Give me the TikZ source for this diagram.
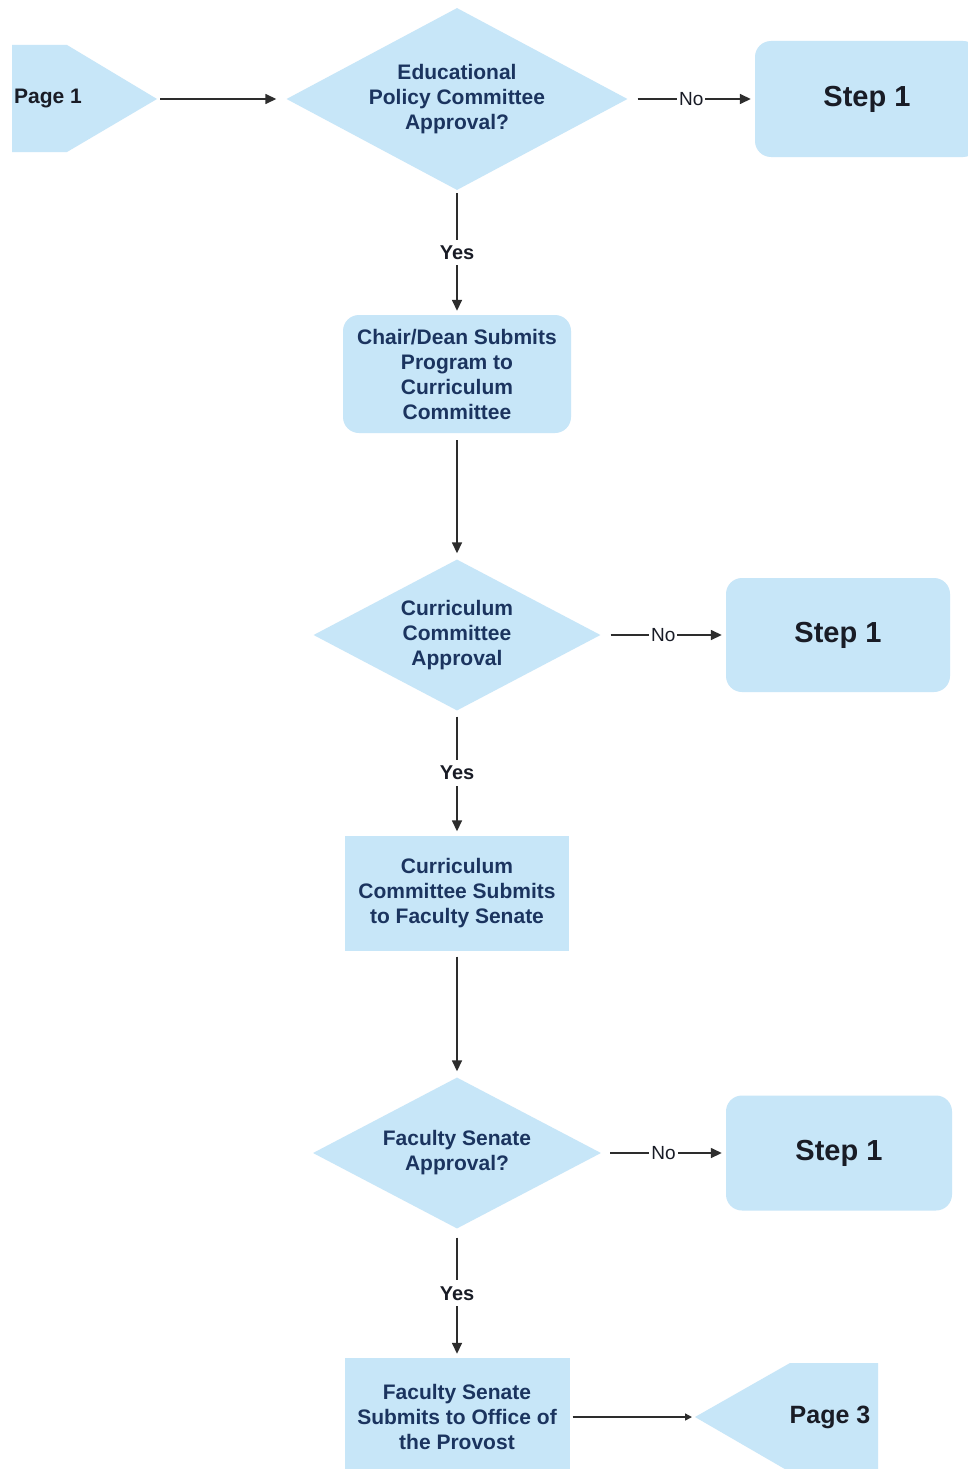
\documentclass[tikz,border=0pt]{standalone}
\usepackage{fontspec}
\setmainfont{Liberation Sans}
\usetikzlibrary{shapes.geometric,arrows.meta}
\definecolor{boxfill}{RGB}{199,230,248}
\definecolor{navy}{RGB}{27,52,95}
\definecolor{ink}{RGB}{25,28,38}
\definecolor{linec}{RGB}{45,45,45}
\begin{document}
\begin{tikzpicture}[x=1pt,y=-1pt,
  bodyfont/.style={font=\bfseries\fontsize{21}{25}\selectfont},
  dia/.style={diamond, fill=boxfill, inner sep=0pt, text=navy, bodyfont, align=center},
  rbox/.style={rectangle, rounded corners=16pt, fill=boxfill, text=navy, bodyfont, align=center, inner sep=0pt},
  sbox/.style={rectangle, fill=boxfill, text=navy, bodyfont, align=center, inner sep=0pt},
  stepbox/.style={rectangle, rounded corners=16pt, fill=boxfill, text=ink, inner sep=0pt, font=\bfseries\fontsize{29}{34}\selectfont},
  pagetxt/.style={text=ink, inner sep=0pt},
  arr/.style={draw=linec, line width=1.5pt, -{Triangle[length=11pt,width=10pt]}},
  lbl/.style={fill=white, text=ink, inner xsep=2pt, inner ysep=6pt}
]
\fill[white] (0,0) rectangle (968,1469);
\useasboundingbox (0,0) rectangle (968,1469);

% Page 1 connector shape
\fill[boxfill] (12,45) -- (67,45) -- (157,99) -- (67,152) -- (12,152) -- cycle;
\node[pagetxt, font=\bfseries\fontsize{21}{25}\selectfont] (p1) at (48,99) {Page 1};
\coordinate (p1tip) at (160,99);

% Decisions
\node[dia, aspect=1.87, minimum width=341pt, minimum height=182pt] (d1) at (457,99)
  {Educational\\Policy Committee\\Approval?};
\node[dia, aspect=1.9, minimum width=287pt, minimum height=151pt] (d2) at (457,635)
  {Curriculum\\Committee\\Approval};
\node[dia, aspect=1.9, minimum width=288pt, minimum height=151pt] (d3) at (457,1153)
  {Faculty Senate\\Approval?};

% Step 1 boxes
\node[stepbox, minimum width=224pt, minimum height=116pt] (s1) at (867,99) {Step 1};
\node[stepbox, minimum width=224pt, minimum height=114pt] (s2) at (838,635) {Step 1};
\node[stepbox, minimum width=226pt, minimum height=115pt] (s3) at (839,1153) {Step 1};

% Process boxes
\node[rbox, minimum width=228pt, minimum height=118pt] (b2) at (457,374)
  {Chair/Dean Submits\\Program to\\Curriculum\\Committee};
\node[sbox, minimum width=224pt, minimum height=115pt] (b3) at (457,893)
  {Curriculum\\Committee Submits\\to Faculty Senate};
\node[sbox, minimum width=225pt, minimum height=118pt] (b4) at (457,1417)
  {Faculty Senate\\Submits to Office of\\the Provost};

% Page 3 connector shape
\fill[boxfill] (695,1417) -- (790,1363) -- (878,1363) -- (878,1472) -- (790,1472) -- cycle;
\node[pagetxt, font=\bfseries\fontsize{25}{30}\selectfont] (p3) at (830,1417) {Page 3};
\coordinate (p3tip) at (695,1417);

% Connectors
\draw[arr, shorten >=10pt] (p1tip) -- (d1.west);
\draw[arr, shorten <=10pt, shorten >=4pt] (d1.east) -- node[lbl, font=\fontsize{19}{22}\selectfont] {No} (s1.west);
\draw[arr, shorten <=3pt, shorten >=4pt] (d1.south) -- node[lbl, font=\bfseries\fontsize{20}{24}\selectfont] {Yes} (b2.north);
\draw[arr, shorten <=7pt, shorten >=6pt] (b2.south) -- (d2.north);
\draw[arr, shorten <=10pt, shorten >=4pt] (d2.east) -- node[lbl, font=\fontsize{19}{22}\selectfont] {No} (s2.west);
\draw[arr, shorten <=6pt, shorten >=4pt] (d2.south) -- node[lbl, font=\bfseries\fontsize{20}{24}\selectfont] {Yes} (b3.north);
\draw[arr, shorten <=6pt, shorten >=6pt] (b3.south) -- (d3.north);
\draw[arr, shorten <=9pt, shorten >=4pt] (d3.east) -- node[lbl, font=\fontsize{19}{22}\selectfont] {No} (s3.west);
\draw[arr, shorten <=9pt, shorten >=4pt] (d3.south) -- node[lbl, font=\bfseries\fontsize{20}{24}\selectfont] {Yes} (b4.north);
\draw[arr, -{Triangle[length=7pt,width=7pt]}, shorten <=3pt, shorten >=3pt] (b4.east) -- (p3tip);
\end{tikzpicture}
\end{document}
